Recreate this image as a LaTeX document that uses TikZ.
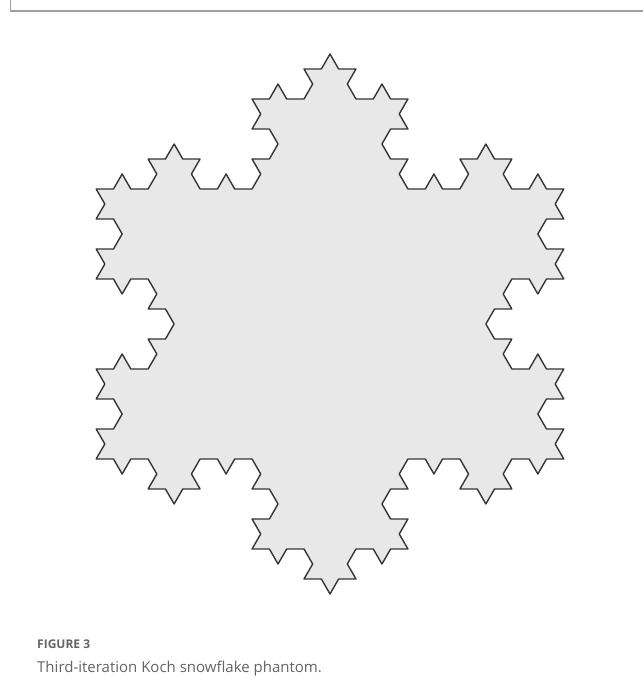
\documentclass[tikz,border=0pt]{standalone}
\usepackage{fontspec}
\setmainfont{Open Sans}
\usetikzlibrary{lindenmayersystems}
\pgfdeclarelindenmayersystem{KochFlake}{\rule{F -> F+F--F+F}}
\definecolor{framegrey}{HTML}{A0A0A0}
\definecolor{flakefill}{HTML}{E8E8E8}
\definecolor{flakeline}{HTML}{353535}
\definecolor{captiongrey}{HTML}{646464}
\tikzset{
  frameline/.style={framegrey, line width=1.2pt},
  flake/.style={flakeline, fill=flakefill, line width=1.4pt, line join=round},
  captiontext/.style={anchor=base west, inner sep=0pt, text=captiongrey}
}
\begin{document}
\begin{tikzpicture}[x=1pt,y=1pt]
\useasboundingbox (0,0) rectangle (643,700);
\coordinate (framebottom) at (10.5,700);
\coordinate (framecorner) at (10.5,689);
\coordinate (frameright) at (643,689);
\draw[frameline] (framebottom) -- (framecorner) -- (frameright);
\coordinate (flakestart) at (96.17,511);
\begin{scope}[shift={(flakestart)}]
\draw[flake, lindenmayer system={KochFlake, axiom=F--F--F, order=3, angle=60, step=17.32pt}] lindenmayer system -- cycle;
\end{scope}
\node[captiontext, font=\fontsize{12}{14}\selectfont\bfseries] (figlabel) at (37,51) {FIGURE 3};
\node[captiontext, font=\fontsize{15}{18}\selectfont] (caption) at (37,27) {Third-iteration Koch snowflake phantom.};
\end{tikzpicture}
\end{document}
